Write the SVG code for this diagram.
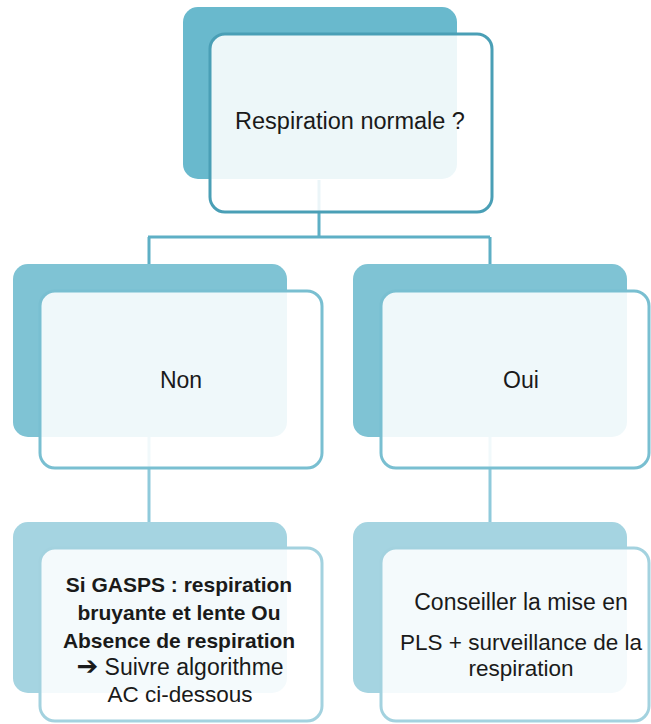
<svg xmlns="http://www.w3.org/2000/svg" width="651" height="724" viewBox="0 0 651 724">
<style>
.front{fill:#ffffff;fill-opacity:0.88;stroke-width:3}
.t{font-family:"Liberation Sans",Arial,sans-serif;fill:#1a1a1a;text-anchor:middle}
.b{font-weight:bold}
.c{fill:none;stroke-width:3}
</style>
<rect width="651" height="724" fill="#ffffff"/>
<g id="connectors">
<path class="c" stroke="#5eafc5" d="M319 180 V237 M148 237 H490 M149 237 V264 M490 237 V264"/>
<path class="c" stroke="#8fcadb" d="M149 437 V522 M490 437 V522"/>
</g>
<g id="q">
<rect x="183" y="7" width="274" height="172" rx="15" fill="#69b9cd"/>
<rect class="front" x="210" y="34" width="282" height="178" rx="15" stroke="#4a9fb6"/>
<text class="t" x="350" y="129" font-size="23.5">Respiration normale ?</text>
</g>
<g id="non">
<rect x="13" y="264" width="274" height="173" rx="15" fill="#7fc3d4"/>
<rect class="front" x="40" y="291" width="282" height="177" rx="15" stroke="#79bfd1"/>
<text class="t" x="181" y="388" font-size="23">Non</text>
</g>
<g id="oui">
<rect x="353" y="264" width="274" height="173" rx="15" fill="#7fc3d4"/>
<rect class="front" x="381" y="291" width="268" height="177" rx="15" stroke="#79bfd1"/>
<text class="t" x="521" y="388" font-size="23">Oui</text>
</g>
<g id="gasps">
<rect x="13" y="522" width="274" height="171" rx="15" fill="#a5d4e1"/>
<rect class="front" x="40" y="548" width="282" height="173" rx="15" stroke="#a3d2df"/>
<text class="t b" x="179" y="592" font-size="21">Si GASPS : respiration</text>
<text class="t b" x="179" y="620" font-size="21">bruyante et lente Ou</text>
<text class="t b" x="179" y="648" font-size="21">Absence de respiration</text>
<text class="t" x="180" y="675" font-size="23"><tspan font-family="'DejaVu Sans',sans-serif" font-size="26" font-weight="bold">➔</tspan> Suivre algorithme</text>
<text class="t" x="180" y="702" font-size="22.5">AC ci-dessous</text>
</g>
<g id="pls">
<rect x="353" y="522" width="274" height="171" rx="15" fill="#a5d4e1"/>
<rect class="front" x="381" y="548" width="268" height="173" rx="15" stroke="#a3d2df"/>
<text class="t" x="521" y="610" font-size="23">Conseiller la mise en</text>
<text class="t" x="521" y="650" font-size="22.5">PLS + surveillance de la</text>
<text class="t" x="521" y="676" font-size="22.5">respiration</text>
</g>
</svg>
